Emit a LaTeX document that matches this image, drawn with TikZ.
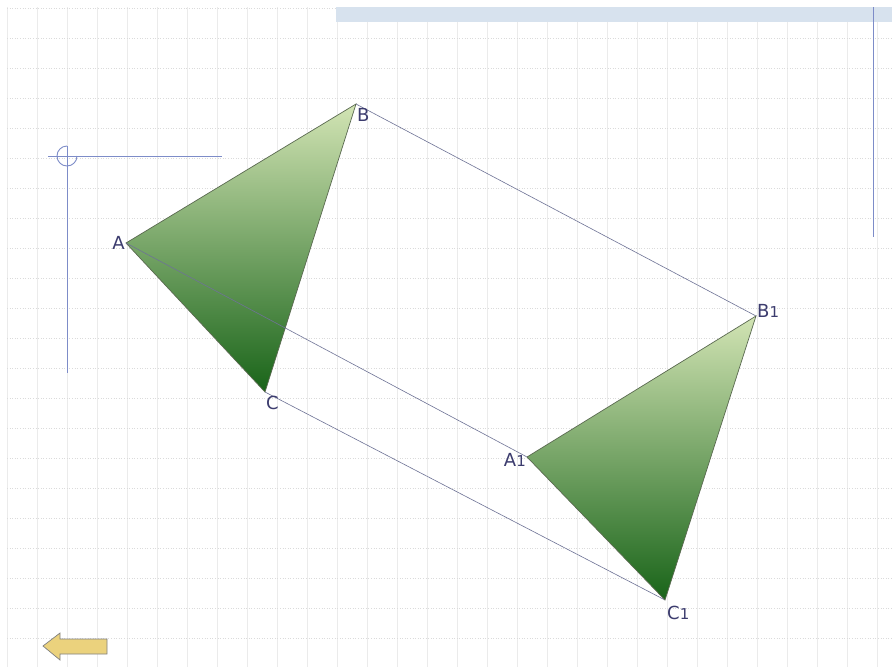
\documentclass[tikz,border=0pt]{standalone}
\usepackage{fontspec}
\setmainfont{DejaVu Sans}
\definecolor{triTop}{RGB}{210,228,180}
\definecolor{triBot}{RGB}{25,100,25}
\definecolor{triEdge}{RGB}{90,105,80}
\definecolor{linkC}{RGB}{110,115,150}
\definecolor{guideC}{RGB}{125,140,200}
\definecolor{bandC}{RGB}{215,226,238}
\definecolor{lblC}{RGB}{60,60,110}
\definecolor{arrowC}{RGB}{235,210,125}
\begin{document}
\begin{tikzpicture}[x=1pt,y=-1pt,
  gridv/.style={draw=black!8,line width=0.6pt},
  gridh/.style={draw=black!14,line width=0.6pt,dotted},
  guide/.style={draw=guideC,line width=0.9pt},
  tri/.style={draw=triEdge,line width=0.7pt,top color=triTop,bottom color=triBot},
  link/.style={draw=linkC,line width=0.6pt},
  lbl/.style={text=lblC,font=\fontsize{18}{18}\selectfont,inner sep=1pt}]
\useasboundingbox (0,0) rectangle (892,667);
\fill[white] (0,0) rectangle (892,667);
% grid
\foreach \x in {7,37,...,892} \draw[gridv] (\x,7) -- (\x,667);
\foreach \y in {8,38,...,667} \draw[gridh] (7,\y) -- (892,\y);
% top band
\fill[bandC] (336,7) rectangle (892,22);
\draw[guide] (873,7) -- (873,237);
% crosshair
\draw[guide] (48,156) -- (222,156);
\draw[guide] (67,146) -- (67,373);
\draw[guide] (77,156) arc[start angle=0,end angle=270,radius=10];
% points
\coordinate (A) at (126,243);
\coordinate (B) at (356,104);
\coordinate (C) at (265,392);
\coordinate (A1) at (527,457);
\coordinate (B1) at (756,316);
\coordinate (C1) at (665,600);
% links
\draw[link] (B) -- (B1);
\draw[link] (C) -- (C1);
% triangles
\shade[tri] (A) -- (B) -- (C) -- cycle;
\shade[tri] (A1) -- (B1) -- (C1) -- cycle;
\draw[link] (A) -- (A1);
% labels
\node[lbl,left] (lA) at (A) {A};
\node[lbl,anchor=north west] (lB) at ([xshift=0,yshift=-3]B) {B};
\node[lbl,anchor=north west] (lC) at ([xshift=0,yshift=-3]C) {C};
\node[lbl,left] (lA1) at ([yshift=-3]A1) {A{\fontsize{15}{15}\selectfont 1}};
\node[lbl,anchor=west] (lB1) at ([yshift=5]B1) {B{\fontsize{15}{15}\selectfont 1}};
\node[lbl,anchor=north west] (lC1) at ([xshift=1,yshift=-5]C1) {C{\fontsize{15}{15}\selectfont 1}};
% back arrow
\draw[fill=arrowC,draw=gray,line width=0.7pt]
  (43,646) -- (60,633) -- (60,639) -- (107,639) -- (107,654) -- (60,654) -- (60,660) -- cycle;
\end{tikzpicture}
\end{document}
